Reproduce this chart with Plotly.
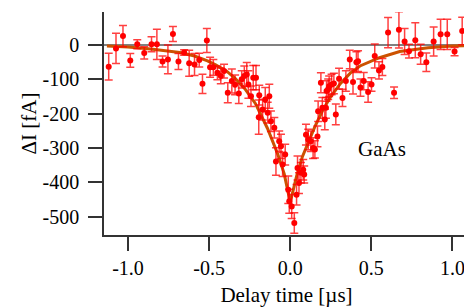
import plotly.graph_objects as go

# Measured data (delay time in µs, ΔI in fA, error in fA)
delay_us = [-1.119, -1.074, -1.031, -0.986, -0.943, -0.900, -0.855, -0.822, -0.787, -0.754,
            -0.723, -0.689, -0.654, -0.623, -0.590, -0.561, -0.541, -0.514, -0.494, -0.474,
            -0.449, -0.428, -0.408, -0.385, -0.360, -0.340, -0.317, -0.299, -0.283, -0.268,
            -0.258, -0.242, -0.228, -0.211, -0.194, -0.191, -0.170, -0.154, -0.139, -0.129,
            -0.119, -0.098, -0.088, -0.068, -0.057, -0.047, -0.031, -0.012, -0.006, 0.009,
            0.025, 0.039, 0.045, 0.054, 0.066, 0.080, 0.086, 0.097, 0.111, 0.127,
            0.141, 0.152, 0.168, 0.172, 0.189, 0.198, 0.213, 0.220, 0.224, 0.234,
            0.240, 0.255, 0.269, 0.281, 0.301, 0.322, 0.343, 0.367, 0.387, 0.408,
            0.418, 0.433, 0.453, 0.480, 0.501, 0.521, 0.547, 0.568, 0.603, 0.640,
            0.670, 0.705, 0.732, 0.771, 0.804, 0.839, 0.884, 0.927, 0.968, 1.013,
            1.060, 1.100]
delta_i_fA = [-63, -10, 26, -45, 2, -23, 2, 2, -48, -42,
              32, -48, -22, -53, -57, -44, -113, 13, -65, -65,
              -81, -90, -76, -139, -105, -116, -141, -100, -90, -86,
              -115, -149, -95, -95, -210, -146, -188, -159, -197, -149,
              -222, -241, -339, -280, -295, -348, -319, -421, -455, -470,
              -518, -436, -358, -402, -372, -363, -377, -261, -275, -280,
              -300, -304, -266, -193, -110, -183, -217, -183, -134, -129,
              -120, -115, -112, -202, -98, -154, -105, -42, -108, -50,
              -47, -124, -105, -137, -115, -32, -74, -64, 36, -139,
              44, 10, -18, 14, -27, -50, 10, 31, 31, -19,
              41, -42]
err_fA = [39, 44, 31, 20, 13, 18, 22, 44, 16, 42,
          22, 23, 8, 38, 32, 20, 28, 35, 29, 23,
          20, 23, 20, 29, 35, 29, 29, 25, 29, 35,
          40, 30, 35, 35, 50, 29, 30, 35, 30, 35,
          30, 30, 40, 30, 35, 35, 30, 40, 35, 35,
          30, 30, 35, 30, 30, 30, 25, 30, 30, 30,
          30, 25, 30, 30, 29, 30, 30, 30, 30, 30,
          30, 30, 30, 30, 30, 25, 30, 27, 35, 30,
          30, 25, 25, 30, 20, 35, 25, 25, 44, 17,
          53, 38, 20, 51, 29, 27, 42, 44, 44, 12,
          40, 100]

# Fit curve
fit_x = [-1.13, -1.0, -0.86, -0.75, -0.68, -0.59, -0.51, -0.46, -0.39, -0.34,
         -0.28, -0.215, -0.14, -0.075, -0.037, 0.0, 0.04, 0.075, 0.11, 0.15,
         0.2, 0.25, 0.31, 0.37, 0.43, 0.55, 0.675, 0.85, 1.0, 1.11]
fit_y = [-3, -6, -12, -17, -22, -32, -46, -58, -77, -97,
         -127, -170, -243, -320, -375, -458, -380, -325, -285, -240,
         -190, -150, -112, -82, -61, -37, -19, -8, -3, -2]

x_tickvals = [-1.0, -0.5, 0.0, 0.5, 1.0]
x_ticktext = ["-1.0", "-0.5", "0.0", "0.5", "1.0"]
y_tickvals = [0, -100, -200, -300, -400, -500]
y_ticktext = ["0", "-100", "-200", "-300", "-400", "-500"]

serif = "Liberation Serif"

fig = go.Figure()
fig.add_trace(go.Scatter(
    x=fit_x, y=fit_y, mode="lines",
    line=dict(color="#cc5200", width=3), hoverinfo="skip", showlegend=False))
fig.add_trace(go.Scatter(
    x=delay_us, y=delta_i_fA, mode="markers",
    marker=dict(color="#ff0000", size=6, symbol="circle"),
    error_y=dict(type="data", array=err_fA, color="rgba(255,0,0,0.75)",
                 thickness=1.5, width=4),
    showlegend=False))

fig.add_hline(y=0, line=dict(color="#808080", width=2), layer="below")

fig.add_annotation(x=0.564, y=-304, text="GaAs", showarrow=False,
                   xanchor="center", yanchor="middle",
                   font=dict(family=serif, size=21, color="black"))

axis_common = dict(showgrid=False, zeroline=False, showline=True, automargin=False,
                   linecolor="#333333", linewidth=1.5,
                   ticks="outside", ticklen=14, tickwidth=1.5, tickcolor="#333333",
                   tickfont=dict(family=serif, size=20, color="black"))

fig.update_xaxes(range=[-1.148, 1.102], tickvals=x_tickvals, ticktext=x_ticktext,
                 title=dict(text="Delay time [µs]", font=dict(family=serif, size=21, color="black")),
                 **axis_common)
fig.update_yaxes(range=[-553, 96], tickvals=y_tickvals, ticktext=y_ticktext,
                 ticklabelstandoff=5,
                 title=dict(text="ΔI [fA]", font=dict(family=serif, size=21, color="black"),
                            standoff=0),
                 **axis_common)

# page body has an 8px default margin, so the figure is sized to fit the window
fig.update_layout(width=464, height=299,
                  margin=dict(l=96, r=3, t=4, b=72),
                  font=dict(family=serif, color="black"),
                  plot_bgcolor="white", paper_bgcolor="white")

fig.write_html("out.html")
